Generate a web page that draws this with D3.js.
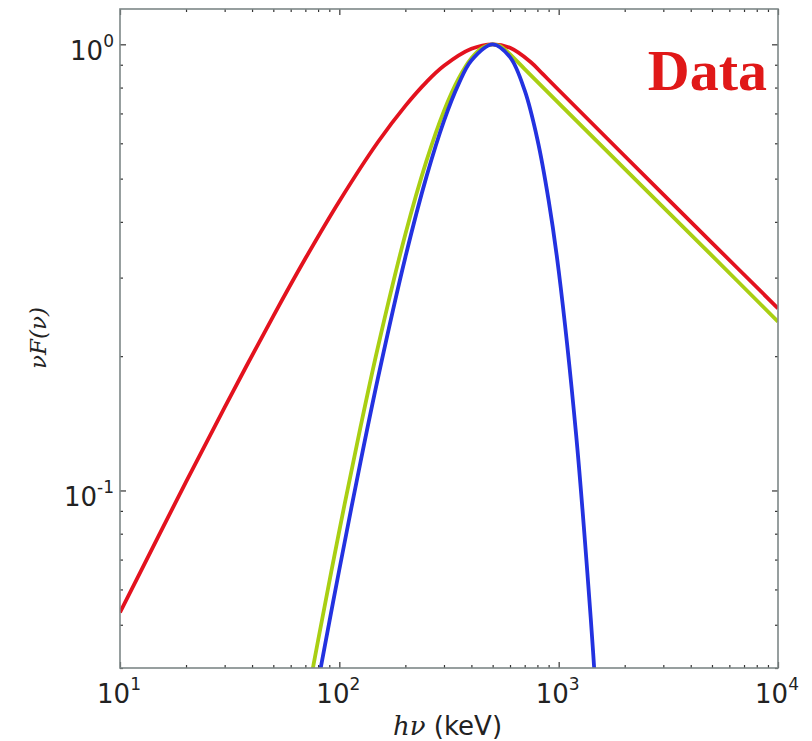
<!DOCTYPE html>
<html>
<head>
<meta charset="utf-8">
<script src="https://cdn.jsdelivr.net/npm/d3@7"></script>
<style>
  body { margin: 0; background: #fff; }
  svg { display: block; }
  .frame { fill: none; stroke: #7d8787; stroke-width: 1.6; }
  .tick-label { font-family: "DejaVu Sans", sans-serif; font-size: 26px; fill: #222; }
</style>
</head>
<body>
<div id="chart"></div>
<script>
// Values: photon energy (keV) and nuF(nu), normalised to the peak
const redE = [10, 15, 20, 30, 50, 70, 100, 150, 200, 250, 300, 400, 500, 600, 745, 850, 1000, 2000, 5000, 10000];
const redF = [0.0533, 0.0791, 0.1045, 0.1536, 0.246, 0.331, 0.445, 0.604, 0.728, 0.824, 0.895, 0.977, 1.0, 0.982, 0.913, 0.856, 0.790, 0.562, 0.359, 0.256];

const greenE = [70, 80, 100, 125, 150, 200, 250, 300, 350, 400, 450, 500, 540, 580, 700, 1000, 2000, 5000, 10000];
const greenF = [0.0324, 0.0461, 0.0813, 0.139, 0.2097, 0.3753, 0.5494, 0.7093, 0.8387, 0.931, 0.983, 1.0, 0.991, 0.965, 0.880, 0.738, 0.526, 0.336, 0.239];

const blueE = [80, 90, 100, 125, 150, 200, 250, 300, 350, 400, 500, 600, 700, 800, 900, 1000, 1200, 1400, 1500];
const blueF = [0.0372, 0.0507, 0.0665, 0.1161, 0.1787, 0.3333, 0.5065, 0.6739, 0.8155, 0.920, 1.0, 0.936, 0.788, 0.612, 0.447, 0.311, 0.134, 0.0518, 0.0312];

const xMajor = [10, 100, 1000, 10000];
const xExp = ["1", "2", "3", "4"];
const yMajor = [0.1, 1];
const yExp = ["-1", "0"];

const width = 812, height = 741;
const margin = { top: 9, right: 34, bottom: 73, left: 120 };

const svg = d3.select("#chart")
    .append("svg")
    .attr("width", width)
    .attr("height", height);

const x = d3.scaleLog()
    .domain([10, 10000])
    .range([margin.left, width - margin.right]);

const y = d3.scaleLog()
    .domain([0.04, 1.2])
    .range([height - margin.bottom, margin.top]);

const x0 = x.range()[0], x1 = x.range()[1];
const y0 = y.range()[0], y1 = y.range()[1];

// minor tick values, 2..9 in each decade
const xMinor = [];
[10, 100, 1000].forEach(d => d3.range(2, 10).forEach(k => xMinor.push(d * k)));
const yMinor = [];
[0.01, 0.1].forEach(d => d3.range(2, 10).forEach(k => { if (d * k >= 0.04 && d * k < 1.2) yMinor.push(d * k); }));

// clip for curves
svg.append("clipPath").attr("id", "clip")
    .append("rect")
    .attr("x", x0).attr("y", y1)
    .attr("width", x1 - x0).attr("height", y0 - y1);

const line = d3.line()
    .x(d => x(d[0]))
    .y(d => y(d[1]))
    .curve(d3.curveCatmullRom.alpha(0.5));

const curves = [
    { E: redE, F: redF, color: "#e3121e" },
    { E: greenE, F: greenF, color: "#a9cf12" },
    { E: blueE, F: blueF, color: "#2332e0" }
];

const plot = svg.append("g").attr("clip-path", "url(#clip)");
curves.forEach(c => {
    plot.append("path")
        .datum(d3.zip(c.E, c.F))
        .attr("fill", "none")
        .attr("stroke", c.color)
        .attr("stroke-width", 3.8)
        .attr("stroke-linejoin", "round")
        .attr("d", line);
});

// ticks on all four sides, pointing inward
function ticks(axisFn, scale, vals, size, transform) {
    svg.append("g")
        .attr("transform", transform)
        .call(axisFn(scale).tickValues(vals).tickSize(size).tickFormat(""))
        .call(g => g.select(".domain").remove())
        .call(g => g.selectAll("line").attr("stroke", "#333").attr("stroke-width", 1.2));
}
ticks(d3.axisBottom, x, xMajor, -6, `translate(0,${y0})`);
ticks(d3.axisBottom, x, xMinor, -3, `translate(0,${y0})`);
ticks(d3.axisTop, x, xMajor, -6, `translate(0,${y1})`);
ticks(d3.axisTop, x, xMinor, -3, `translate(0,${y1})`);
ticks(d3.axisLeft, y, yMajor, -6, `translate(${x0},0)`);
ticks(d3.axisLeft, y, yMinor, -3, `translate(${x0},0)`);
ticks(d3.axisRight, y, yMajor, -6, `translate(${x1},0)`);
ticks(d3.axisRight, y, yMinor, -3, `translate(${x1},0)`);

svg.append("rect")
    .attr("class", "frame")
    .attr("x", x0).attr("y", y1)
    .attr("width", x1 - x0).attr("height", y0 - y1);

// tick labels with superscripts
xMajor.forEach((v, i) => {
    const t = svg.append("text")
        .attr("class", "tick-label")
        .attr("x", x(v) - 1)
        .attr("y", y0 + 35)
        .attr("text-anchor", "middle");
    t.append("tspan").text("10");
    t.append("tspan").attr("dy", -13).attr("font-size", 17).text(xExp[i]);
});

yMajor.forEach((v, i) => {
    const t = svg.append("text")
        .attr("class", "tick-label")
        .attr("x", x0 - 6)
        .attr("y", y(v) + 16)
        .attr("text-anchor", "end");
    t.append("tspan").text("10");
    t.append("tspan").attr("dy", -13).attr("font-size", 17).text(yExp[i]);
});

// axis titles
const xt = svg.append("text")
    .attr("x", 393)
    .attr("y", 735)
    .attr("font-size", 26)
    .attr("fill", "#222");
xt.append("tspan").attr("font-family", "'DejaVu Serif', serif").attr("font-style", "italic").text("hν");
xt.append("tspan").attr("font-family", "'DejaVu Sans', sans-serif").text(" (keV)");

svg.append("text")
    .attr("transform", "translate(46,338) rotate(-90)")
    .attr("text-anchor", "middle")
    .attr("font-family", "'DejaVu Serif', serif")
    .attr("font-style", "italic")
    .attr("font-size", 23)
    .attr("fill", "#222")
    .text("νF(ν)");

svg.append("text")
    .attr("x", 767)
    .attr("y", 90)
    .attr("text-anchor", "end")
    .attr("font-family", "'Liberation Serif', serif")
    .attr("font-weight", "bold")
    .attr("font-size", 58)
    .attr("fill", "#e01818")
    .text("Data");
</script>
</body>
</html>
